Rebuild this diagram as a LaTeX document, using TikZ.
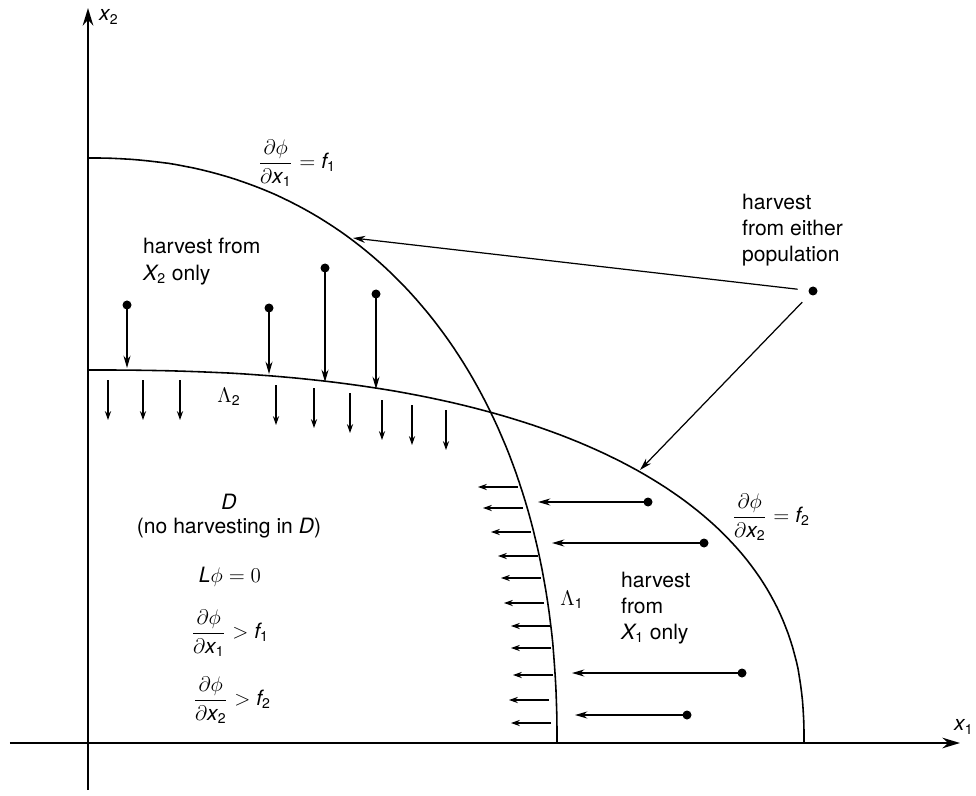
\documentclass[tikz,border=0pt]{standalone}
\usepackage{amsmath}
\usepackage{fontspec}
\setmainfont{TeX Gyre Heros}
\usetikzlibrary{arrows.meta}

% italic sans variables, upright sans subscripts
\newcommand{\vi}[1]{\textit{#1}}
\newcommand{\vs}[2]{\textit{#1}_{\text{#2}}}
\newcommand{\dphi}[1]{\dfrac{\partial\phi}{\partial\vs{x}{#1}}}

\begin{document}
\begin{tikzpicture}[
  font=\fontsize{12}{15}\selectfont,
  axis/.style={line width=1.4pt, -{Stealth[length=10pt,width=6pt]}},
  bound/.style={line width=0.9pt},
  harv/.style={line width=0.7pt, -{Stealth[length=7pt,width=4pt]}},
  hatch/.style={line width=0.7pt, -{Stealth[length=5pt,width=3.5pt]}},
  dot/.style={circle, fill, inner sep=0pt, minimum size=1.8mm, outer sep=0pt}
]
\useasboundingbox (-1.76,-1.04) rectangle (17.76,14.86);

% axes
\draw[axis] (-1.56,0) -- (17.44,0);
\draw[axis] (0,-0.94) -- (0,14.70);
\node[anchor=west] (xtwo) at (0.10,14.52) {$\vs{x}{2}$};
\node[anchor=west] (xone) at (17.20,0.32) {$\vs{x}{1}$};

% the two switching curves (superellipse arcs)
\draw[bound] (9.38,0) -- plot[domain=0.05:89.95, samples=90, variable=\t]
  ({9.38*pow(cos(\t),2/2.2)}, {11.70*pow(sin(\t),2/2.2)}) -- (0,11.70);
\draw[bound] (14.32,0) -- plot[domain=0.05:89.95, samples=90, variable=\t]
  ({14.32*pow(cos(\t),2/2.4)}, {7.46*pow(sin(\t),2/2.4)}) -- (0,7.46);

% curve labels
\node (fone) at (4.18,11.60) {$\dphi{1} = \vs{f}{1}$};
\node (ftwo) at (13.66,4.52) {$\dphi{2} = \vs{f}{2}$};
\node (lamtwo) at (2.82,6.92) {$\Lambda_{\text{2}}$};
\node (lamone) at (9.68,2.86) {$\Lambda_{\text{1}}$};

% hatching below Lambda_2 and left of Lambda_1
\foreach \x/\y in {0.40/7.26, 1.10/7.26, 1.84/7.26, 3.76/7.16, 4.52/7.10,
                   5.24/7.00, 5.88/6.86, 6.48/6.76, 7.16/6.66}
  \draw[hatch] (\x,\y) -- ++(0,-0.8);
\foreach \x/\y in {8.60/5.12, 8.70/4.70, 8.86/4.22, 9.00/3.74, 9.06/3.30,
                   9.12/2.80, 9.26/2.34, 9.26/1.90, 9.30/1.36, 9.22/0.86, 9.26/0.40}
  \draw[hatch] (\x,\y) -- ++(-0.8,0);

% harvest from X2: jumps down onto Lambda_2
\node[anchor=west, align=left] (xtwoonly) at (0.98,9.63) {harvest from\\ $\vs{X}{2}$ only};
\foreach \n/\x/\yd/\yt in {1/0.78/8.76/7.50, 2/3.62/8.70/7.38,
                           3/4.74/9.50/7.22, 4/5.76/8.98/7.08} {
  \node[dot] (up\n) at (\x,\yd) {};
  \coordinate (up\n t) at (\x,\yt);
  \draw[harv] (up\n) -- (up\n t);
}

% harvest from X1: jumps left onto Lambda_1
\node[anchor=west, align=left] (xoneonly) at (10.54,2.70) {harvest\\ from\\ $\vs{X}{1}$ only};
\foreach \n/\xd/\xt/\y in {1/11.20/9.00/4.82, 2/12.32/9.28/4.00,
                           3/13.08/9.68/1.40, 4/11.98/9.74/0.56} {
  \node[dot] (rt\n) at (\xd,\y) {};
  \coordinate (rt\n t) at (\xt,\y);
  \draw[harv] (rt\n) -- (rt\n t);
}

% harvest from either population
\node[anchor=west, align=left] (either) at (12.96,10.26) {harvest\\ from either\\ population};
\node[dot] (both) at (14.50,9.04) {};
\coordinate (bothone) at (5.30,10.10);
\coordinate (bothtwo) at (11.04,5.46);
\draw[harv, shorten <=2.2mm] (both) -- (bothone);
\draw[harv, shorten <=2.2mm] (both) -- (bothtwo);

% continuation region D
\node (D) at (2.82,4.82) {$\vi{D}$};
\node (nohv) at (2.82,4.30) {(no harvesting in $\vi{D}$)};
\node (Lphi) at (2.84,3.32) {$\vi{L}\phi = 0$};
\node (gtone) at (2.84,2.20) {$\dphi{1} > \vs{f}{1}$};
\node (gttwo) at (2.88,0.86) {$\dphi{2} > \vs{f}{2}$};
\end{tikzpicture}
\end{document}
